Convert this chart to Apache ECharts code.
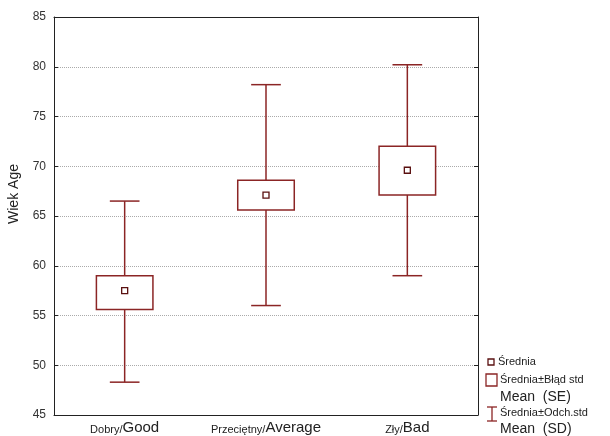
<!DOCTYPE html>
<html><head><meta charset="utf-8">
<script src="https://cdn.jsdelivr.net/npm/echarts@6/dist/echarts.min.js"></script>
<style>html,body{margin:0;padding:0;background:#fff}#c{width:610px;height:436px}</style>
</head><body><div id="c"></div>
<script>
var catSmall = ['Dobry/', 'Przeciętny/', 'Zły/'];
var catBig = ['Good', 'Average', 'Bad'];
var categories = ['Dobry/Good', 'Przeciętny/Average', 'Zły/Bad'];
var means = [57.5, 67.1, 69.6];
var seLow = [55.6, 65.6, 67.1];
var seHigh = [59.0, 68.6, 72.0];
var sdLow = [48.3, 56.0, 59.0];
var sdHigh = [66.5, 78.2, 80.2];
var yTicks = [45, 50, 55, 60, 65, 70, 75, 80, 85];

var C = '#8b2525';
var data = categories.map(function (c, i) { return [i, means[i], seLow[i], seHigh[i], sdLow[i], sdHigh[i]]; });

var chart = echarts.init(document.getElementById('c'));
chart.setOption({
  animation: false,
  grid: { left: 54, right: 132, top: 17, bottom: 21, containLabel: false, outerBoundsMode: 'none' },
  xAxis: [{
    type: 'category', data: categories, position: 'bottom',
    axisLine: { lineStyle: { color: '#222', width: 1 } },
    axisTick: { inside: true, alignWithLabel: true, length: 4, lineStyle: { color: '#222' } },
    axisLabel: {
      margin: 5, interval: 0, hideOverlap: false,
      formatter: function (v, i) { return '{a|' + catSmall[i] + '}{b|' + catBig[i] + '}'; },
      rich: {
        a: { fontFamily: 'Liberation Sans', fontSize: 11, color: '#222', verticalAlign: 'bottom' },
        b: { fontFamily: 'Liberation Sans', fontSize: 15, color: '#222', verticalAlign: 'bottom' }
      }
    }
  }, {
    type: 'category', data: categories, position: 'top',
    axisLine: { lineStyle: { color: '#222', width: 1 } },
    axisTick: { inside: true, alignWithLabel: true, length: 4, lineStyle: { color: '#222' } },
    axisLabel: { show: false }
  }],
  yAxis: [{
    type: 'value', min: 45, max: 85, interval: 5, position: 'left',
    name: 'Wiek Age', nameLocation: 'middle', nameGap: 33, nameRotate: 90,
    nameTextStyle: { fontFamily: 'Liberation Sans', fontSize: 14, color: '#222', padding: [0, 0, 0, 44] },
    axisLine: { show: true, lineStyle: { color: '#222', width: 1 } },
    axisTick: { show: true, inside: true, length: 4, lineStyle: { color: '#222' } },
    axisLabel: { fontFamily: 'Liberation Sans', fontSize: 12, color: '#333', margin: 8 },
    splitLine: { show: true, lineStyle: { color: '#aaa', type: [1, 1], width: 1 } }
  }, {
    type: 'value', min: 45, max: 85, interval: 5, position: 'right',
    axisLine: { show: true, lineStyle: { color: '#222', width: 1 } },
    axisTick: { show: true, inside: true, length: 4, lineStyle: { color: '#222' } },
    axisLabel: { show: false }, splitLine: { show: false }
  }],
  series: [{
    type: 'custom',
    xAxisIndex: 0, yAxisIndex: 0,
    data: data,
    renderItem: function (params, api) {
      var x = api.value(0);
      var pm = api.coord([x, api.value(1)]);
      var pl = api.coord([x, api.value(2)]);
      var ph = api.coord([x, api.value(3)]);
      var pdl = api.coord([x, api.value(4)]);
      var pdh = api.coord([x, api.value(5)]);
      var band = api.size([1, 0])[0];
      var bw = band * 0.40, cw = band * 0.21;
      var cx = pm[0];
      var ls = { stroke: C, lineWidth: 1.5, fill: null };
      return {
        type: 'group',
        children: [
          { type: 'line', shape: { x1: cx, y1: pdl[1], x2: cx, y2: pdh[1] }, style: ls },
          { type: 'line', shape: { x1: cx - cw / 2, y1: pdl[1], x2: cx + cw / 2, y2: pdl[1] }, style: ls },
          { type: 'line', shape: { x1: cx - cw / 2, y1: pdh[1], x2: cx + cw / 2, y2: pdh[1] }, style: ls },
          { type: 'rect', shape: { x: cx - bw / 2, y: ph[1], width: bw, height: pl[1] - ph[1] }, style: { stroke: C, lineWidth: 1.5, fill: '#fff' } },
          { type: 'rect', shape: { x: cx - 3, y: pm[1] - 3, width: 6, height: 6 }, style: { stroke: '#5a1010', lineWidth: 1.3, fill: '#fff' } }
        ]
      };
    }
  }],
  graphic: [
    { type: 'rect', shape: { x: 488, y: 359, width: 6, height: 6 }, style: { stroke: '#5a1010', lineWidth: 1.3, fill: '#fff' } },
    { type: 'text', x: 498, y: 362, style: { text: 'Średnia', fontFamily: 'Liberation Sans', fontSize: 11, fill: '#222', verticalAlign: 'middle' } },
    { type: 'rect', shape: { x: 486, y: 374, width: 11, height: 12 }, style: { stroke: C, lineWidth: 1.3, fill: '#fff' } },
    { type: 'text', x: 500, y: 380, style: { text: 'Średnia±Błąd std', fontFamily: 'Liberation Sans', fontSize: 11, fill: '#222', verticalAlign: 'middle' } },
    { type: 'text', x: 500, y: 397, style: { text: 'Mean  (SE)', fontFamily: 'Liberation Sans', fontSize: 14, fill: '#222', verticalAlign: 'middle' } },
    { type: 'line', shape: { x1: 492, y1: 407, x2: 492, y2: 421 }, style: { stroke: C, lineWidth: 1.3 } },
    { type: 'line', shape: { x1: 487, y1: 407, x2: 497, y2: 407 }, style: { stroke: C, lineWidth: 1.3 } },
    { type: 'line', shape: { x1: 487, y1: 421, x2: 497, y2: 421 }, style: { stroke: C, lineWidth: 1.3 } },
    { type: 'text', x: 500, y: 413, style: { text: 'Średnia±Odch.std', fontFamily: 'Liberation Sans', fontSize: 11, fill: '#222', verticalAlign: 'middle' } },
    { type: 'text', x: 500, y: 429, style: { text: 'Mean  (SD)', fontFamily: 'Liberation Sans', fontSize: 14, fill: '#222', verticalAlign: 'middle' } }
  ]
});
</script></body></html>
